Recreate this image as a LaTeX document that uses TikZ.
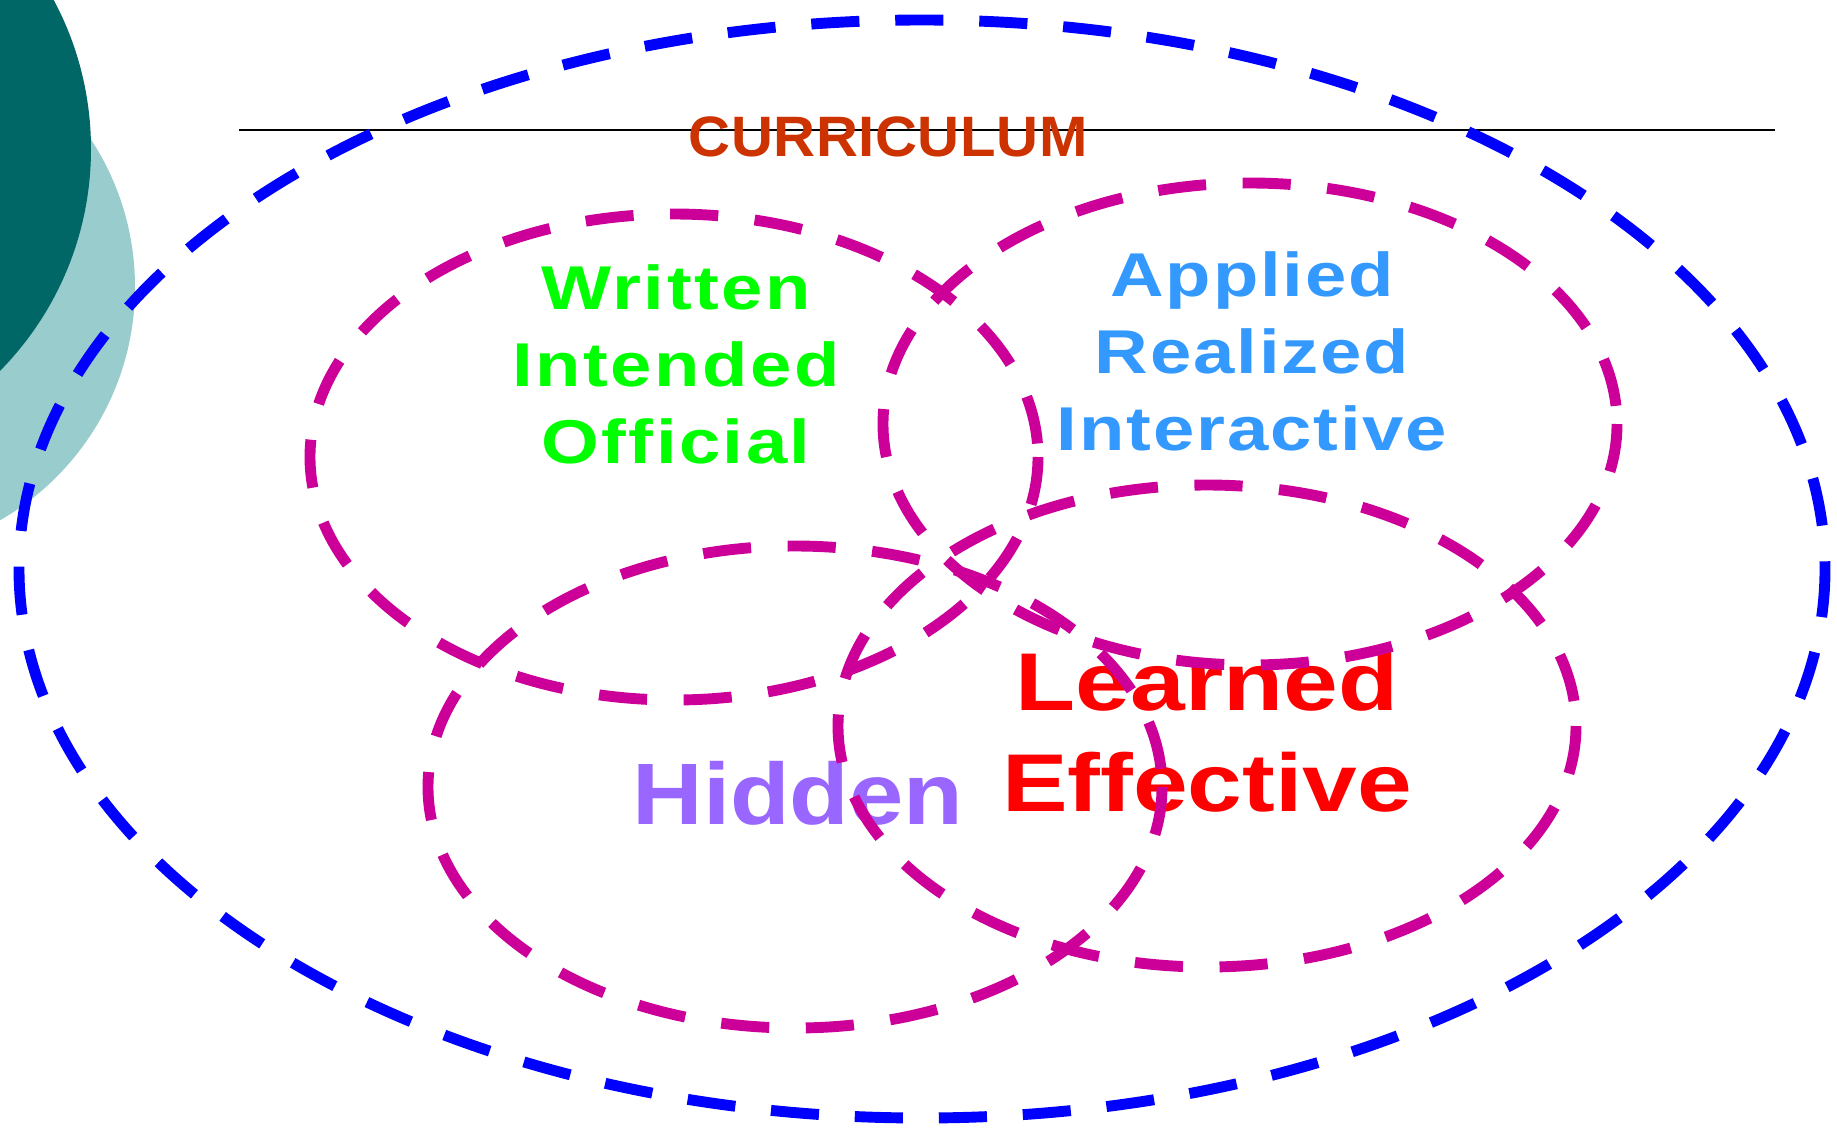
\documentclass[tikz,border=0pt]{standalone}
\usepackage{fontspec}
\setmainfont{Liberation Sans}

\definecolor{darkteal}{HTML}{006666}
\definecolor{lightteal}{HTML}{99CCCC}
\definecolor{ringblue}{HTML}{0000FF}
\definecolor{ringmagenta}{HTML}{CC0099}
\definecolor{titlered}{HTML}{CC3300}
\definecolor{writtengreen}{HTML}{00FF00}
\definecolor{appliedblue}{HTML}{3399FF}
\definecolor{hiddenpurple}{HTML}{9966FF}
\definecolor{learnedred}{HTML}{FF0000}

\newcommand{\labelfont}[4]{\fontsize{#1}{#2}\selectfont\bfseries\addfontfeatures{FakeStretch=#3,LetterSpace=#4}}

\begin{document}
\begin{tikzpicture}[x=0.01cm,y=-0.01cm]
  \tikzstyle{every node}=[inner sep=0pt, align=center]
  \tikzstyle{outer ring}=[ringblue, line width=3.1pt, dash pattern=on 13.7pt off 10.2pt]
  \tikzstyle{inner ring}=[ringmagenta, line width=3.1pt, dash pattern=on 13.7pt off 10.4pt]

  \useasboundingbox (0,0) rectangle (1837,1127);
  \clip (0,0) rectangle (1837,1127);

  \fill[lightteal] (-134,287) circle (269);
  \fill[darkteal] (-225,149) circle (316);

  \coordinate (rule west) at (239,130);
  \coordinate (rule east) at (1775,130);
  \draw[line width=0.6pt] (rule west) -- (rule east);

  \node[anchor=base, text=titlered, font=\labelfont{16.2pt}{18pt}{1.02}{1}] (curriculum) at (888,156) {CURRICULUM};

  \node[text=writtengreen, font=\labelfont{17.6pt}{21.9pt}{1.2}{4}] (written) at (676,364) {Written\\Intended\\Official};
  \node[text=appliedblue, font=\labelfont{17.6pt}{21.9pt}{1.2}{3}] (applied) at (1252,351) {Applied\\Realized\\Interactive};
  \node[anchor=base, text=hiddenpurple, font=\labelfont{24.8pt}{28pt}{1.12}{0}] (hidden) at (798,824) {Hidden};
  \node[text=learnedred, font=\labelfont{23.3pt}{28.7pt}{1.2}{0}] (learned) at (1207,732) {Learned\\Effective};

  \draw[outer ring] (922,569) ellipse [x radius=903, y radius=549];

  \draw[inner ring] (674,457) ellipse [x radius=364, y radius=243];
  \draw[inner ring] (1250,424) ellipse [x radius=367, y radius=241];
  \draw[inner ring] (795,787) ellipse [x radius=367, y radius=241];
  \draw[inner ring] (1207,726) ellipse [x radius=369, y radius=241];

\end{tikzpicture}
\end{document}
